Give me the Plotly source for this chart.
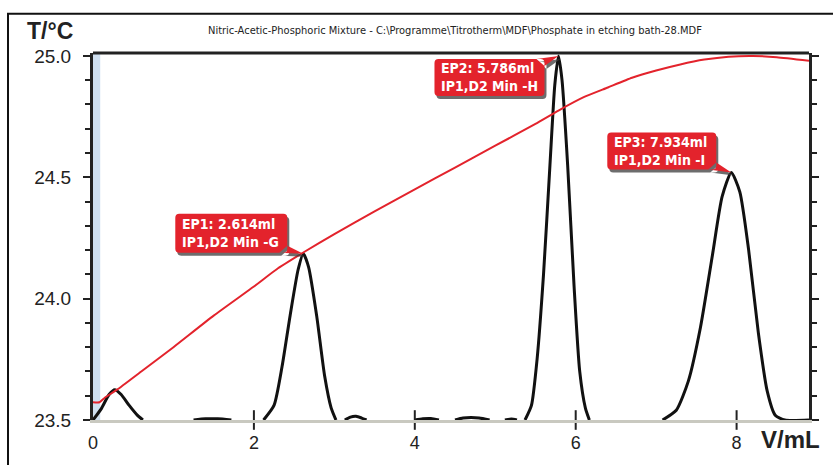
import plotly.graph_objects as go

# ---- data ----
temp_x = [0, 0.08, 0.15, 0.3, 0.6, 1.0, 1.5, 2.0, 2.3, 2.614, 3.0, 3.5, 4.0, 4.5, 5.0,
          5.5, 5.786, 6.1, 6.4, 6.7, 7.0, 7.3, 7.6, 7.9, 8.2, 8.5, 8.9]
temp_y = [23.573, 23.573, 23.593, 23.625, 23.70, 23.80, 23.93, 24.05, 24.125, 24.19,
          24.266, 24.36, 24.45, 24.54, 24.63, 24.72, 24.775, 24.83, 24.87, 24.91, 24.94,
          24.965, 24.985, 24.997, 25.0, 24.995, 24.98]

sig_x = [0, 0.1, 0.2, 0.27, 0.35, 0.45, 0.55, 0.62, None,
         1.25, 1.4, 1.55, 1.72, None,
         2.12, 2.25, 2.35, 2.45, 2.55, 2.614, 2.68, 2.78, 2.88, 2.96, 3.02, None,
         3.13, 3.2, 3.27, 3.34, 3.4, None,
         4.0, 4.1, 4.2, 4.3, None,
         4.5, 4.6, 4.7, 4.8, 4.93, None,
         5.12, 5.2, 5.27, None,
         5.37, 5.45, 5.52, 5.6, 5.68, 5.74, 5.786, 5.83, 5.9, 5.98, 6.05, 6.12, 6.17, None,
         7.08, 7.25, 7.4, 7.55, 7.7, 7.82, 7.934, 8.04, 8.15, 8.27, 8.38, 8.48, 8.6, 8.9]
sig_y = [23.5, 23.545, 23.605, 23.625, 23.605, 23.56, 23.52, 23.5, None,
         23.5, 23.505, 23.505, 23.5, None,
         23.5, 23.56, 23.72, 23.93, 24.12, 24.185, 24.13, 23.93, 23.68, 23.55, 23.5, None,
         23.5, 23.512, 23.515, 23.508, 23.5, None,
         23.5, 23.505, 23.506, 23.5, None,
         23.5, 23.508, 23.51, 23.508, 23.5, None,
         23.5, 23.504, 23.5, None,
         23.5, 23.56, 23.75, 24.1, 24.55, 24.88, 25.0, 24.9, 24.55, 24.05, 23.7, 23.55, 23.5, None,
         23.5, 23.54, 23.66, 23.88, 24.18, 24.42, 24.52, 24.44, 24.2, 23.86, 23.62, 23.52, 23.5, 23.5]

ep_x = [2.614, 5.786, 7.934]
ep_y = [24.185, 25.0, 24.52]
ep_line1 = ["EP1: 2.614ml", "EP2: 5.786ml", "EP3: 7.934ml"]
ep_line2 = ["IP1,D2 Min -G", "IP1,D2 Min -H", "IP1,D2 Min -I"]

x_ticks = [0, 2, 4, 6, 8]
x_tick_marks = [2, 4, 6, 8]
y_ticks = [23.5, 24.0, 24.5, 25.0]
y_tick_labels = ["23.5", "24.0", "24.5", "25.0"]

title_text = "Nitric-Acetic-Phosphoric Mixture - C:\\Programme\\Titrotherm\\MDF\\Phosphate in etching bath-28.MDF"

NARROW = "Liberation Sans Narrow, DejaVu Sans Condensed, Arial Narrow, sans-serif"
SANS = "Liberation Sans, Arial, Helvetica, sans-serif"
RED = "#e3232c"
INK = "#222222"

fig = go.Figure()

fig.add_trace(go.Scatter(x=sig_x, y=sig_y, mode="lines", connectgaps=False,
                         line=dict(color="#111111", width=3, shape="spline", smoothing=0.6),
                         hoverinfo="skip", showlegend=False))
fig.add_trace(go.Scatter(x=temp_x, y=temp_y, mode="lines",
                         line=dict(color=RED, width=2, shape="spline", smoothing=0.5),
                         hoverinfo="skip", showlegend=False))
# x tick marks crossing the baseline
fig.add_trace(go.Scatter(x=x_tick_marks, y=[23.5] * len(x_tick_marks), mode="markers",
                         marker=dict(symbol="line-ns-open", size=14, color=INK,
                                     line=dict(color=INK, width=2)),
                         cliponaxis=False, hoverinfo="skip", showlegend=False))

shapes = [
    # light blue band at start
    dict(type="rect", xref="x", yref="paper", x0=0, x1=0.09, y0=0, y1=1,
         fillcolor="#cfe0f1", line=dict(width=0), layer="below"),
    # top frame line
    dict(type="line", xref="paper", yref="paper", x0=0, x1=1, y0=1, y1=1,
         line=dict(color=INK, width=3)),
    # outer frame
    dict(type="rect", xref="paper", yref="paper", x0=-0.1187, x1=1.05, y0=-0.13, y1=1.107,
         line=dict(color="#111111", width=2), fillcolor="rgba(0,0,0,0)"),
]


def bubble_path(x0, x1, yb, yt, tail_side, dx=0, dy=0, r=4):
    """Rounded box (pixel offsets, y up) plus a small tail reaching the anchor point."""
    x0 += dx; x1 += dx; yb += dy; yt += dy
    p = (f"M{x0 + r},{yt} L{x1 - r},{yt} Q{x1},{yt} {x1},{yt - r} L{x1},{yb + r} "
         f"Q{x1},{yb} {x1 - r},{yb} L{x0 + r},{yb} Q{x0},{yb} {x0},{yb + r} "
         f"L{x0},{yt - r} Q{x0},{yt} {x0 + r},{yt} Z")
    if tail_side == "bottom":
        p += f" M{x1},{yb + 7} L{x1 - 8},{yb} L{dx},{dy} Z"
    else:
        p += f" M{x1},{yt - 7} L{x1 - 8},{yt} L{dx},{dy} Z"
    return p


# box geometry in pixels relative to each end point (left, right, bottom, top, tail side)
boxes = [(-128, -16, 1, 40, "bottom"),
         (-124, -14, -40, -3, "top"),
         (-124, -15, 3, 40, "bottom")]

annotations = [
    dict(text=title_text, xref="paper", yref="paper", x=0.505, y=1.062, showarrow=False,
         font=dict(family=NARROW, size=11, color=INK), xanchor="center", yanchor="middle"),
    dict(text="<b>T/°C</b>", xref="paper", yref="paper", x=-0.095, y=1.06, showarrow=False,
         font=dict(family=SANS, size=23, color=INK), xanchor="left", yanchor="middle"),
    dict(text="<b>V/mL</b>", xref="paper", yref="paper", x=1.018, y=-0.054, showarrow=False,
         font=dict(family=SANS, size=24, color=INK), xanchor="right", yanchor="middle"),
]

for px, py, l1, l2, (bx0, bx1, byb, byt, side) in zip(ep_x, ep_y, ep_line1, ep_line2, boxes):
    common = dict(type="path", xref="x", yref="y", xsizemode="pixel", ysizemode="pixel",
                  xanchor=px, yanchor=py, line=dict(width=0))
    shapes.append(dict(common, path=bubble_path(bx0, bx1, byb, byt, side, dx=2, dy=-3),
                       fillcolor="rgba(60,60,60,0.75)"))
    shapes.append(dict(common, path=bubble_path(bx0, bx1, byb, byt, side),
                       fillcolor=RED))
    annotations.append(dict(x=px, y=py, xref="x", yref="y", showarrow=False,
                            text=f"<b>{l1}</b><br><b>{l2}</b>", align="left",
                            xanchor="left", yanchor="middle",
                            xshift=bx0 + 5, yshift=(byb + byt) / 2,
                            font=dict(family=NARROW, size=14, color="white")))

fig.update_layout(
    width=833, height=465,
    margin=dict(l=93, r=24, t=53, b=38),
    paper_bgcolor="white", plot_bgcolor="white",
    shapes=shapes, annotations=annotations,
    xaxis=dict(range=[0, 8.9], tickvals=x_ticks, ticktext=[str(v) for v in x_ticks],
               showgrid=False, zeroline=False, showline=True, linecolor="#c9c9c0", linewidth=3,
               ticks="", tickfont=dict(family=SANS, size=18, color=INK),
               ticklabelstandoff=4, fixedrange=True),
    yaxis=dict(range=[23.5, 25.012], tickvals=y_ticks, ticktext=y_tick_labels,
               showgrid=False, zeroline=False, showline=True, linecolor=INK, linewidth=3,
               mirror="ticks", ticks="outside", ticklen=7, tickwidth=2, tickcolor=INK,
               minor=dict(dtick=0.1, tick0=23.5, ticks="outside", ticklen=5, tickwidth=2,
                          tickcolor=INK),
               tickfont=dict(family=SANS, size=19, color=INK),
               ticklabelstandoff=8, fixedrange=True),
)

fig.write_html("out.html", config={"displayModeBar": False},
               post_script="document.body.style.margin='0';document.body.style.overflow='hidden';")
